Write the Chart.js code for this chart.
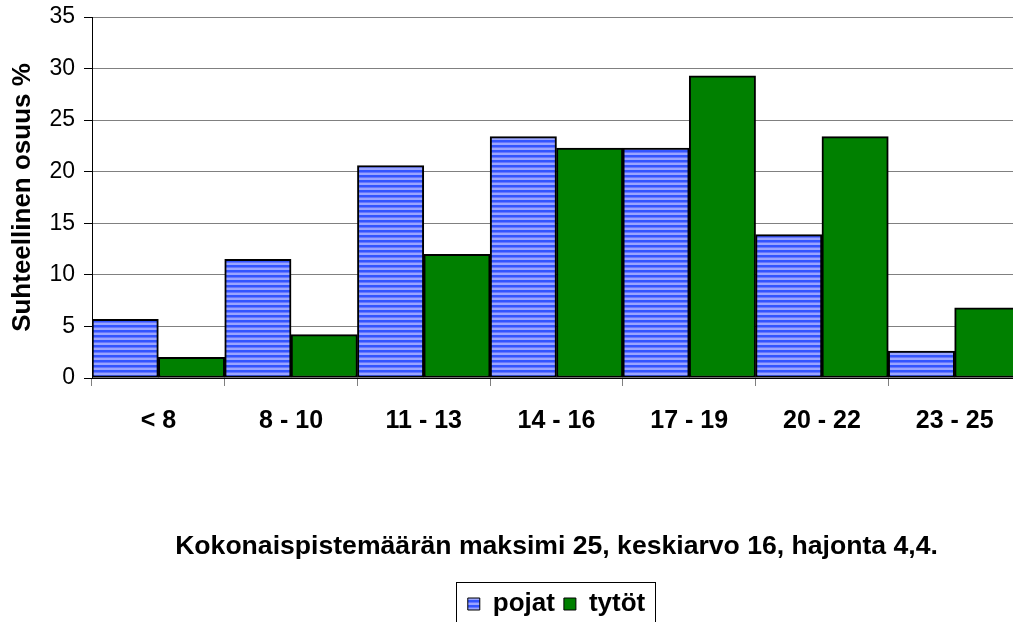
<!DOCTYPE html>
<html>
<head>
<meta charset="utf-8">
<script src="https://cdn.jsdelivr.net/npm/chart.js@4/dist/chart.umd.min.js"></script>
<style>
  body { margin: 0; overflow: hidden; background: #fff; }
  canvas { display: block; }
</style>
</head>
<body>
<canvas id="myChart" width="1021" height="627"></canvas>
<script>
var categories = ['< 8', '8 - 10', '11 - 13', '14 - 16', '17 - 19', '20 - 22', '23 - 25'];
var seriesNames = ['pojat', 'tytöt'];
var pojat = [5.7, 11.5, 20.6, 23.4, 22.3, 13.9, 2.6];
var tytot = [2.0, 4.2, 12.0, 22.3, 29.3, 23.4, 6.8];
var yTicks = [0, 5, 10, 15, 20, 25, 30, 35];
var yTitle = 'Suhteellinen osuus %';
var xTitle = 'Kokonaispistemäärän maksimi 25, keskiarvo 16, hajonta 4,4.';

// blue striped fill like the old excel pattern
function stripes() {
  var c = document.createElement('canvas');
  c.width = 8; c.height = 5;
  var g = c.getContext('2d');
  var rows = ['#3355ff', '#3355ff', '#6677ff', '#9aa5ff', '#9aa5ff'];
  rows.forEach(function (col, i) {
    g.fillStyle = col;
    g.fillRect(0, i, 8, 1);
  });
  return g.createPattern(c, 'repeat');
}
var ctx = document.getElementById('myChart').getContext('2d');

Chart.defaults.font.family = '"Liberation Sans", Arial, sans-serif';
Chart.defaults.color = '#000';

// box around the legend
var legendBorder = {
  id: 'legendBorder',
  afterDraw: function (chart) {
    var lg = chart.legend;
    if (!lg || !lg.legendHitBoxes.length) return;
    var l = Math.min.apply(null, lg.legendHitBoxes.map(function (h) { return h.left; }));
    var r = Math.max.apply(null, lg.legendHitBoxes.map(function (h) { return h.left + h.width; }));
    var c = chart.ctx;
    c.save();
    c.strokeStyle = '#000';
    c.lineWidth = 1;
    c.strokeRect(Math.round(l - 12) + 0.5, Math.round(lg.top) + 0.5, Math.round(r - l + 22), Math.round(lg.height));
    c.restore();
  }
};

new Chart(ctx, {
  type: 'bar',
  data: {
    labels: categories,
    datasets: [{
      label: seriesNames[0],
      data: pojat,
      backgroundColor: stripes(),
      borderColor: '#000',
      borderWidth: 2,
      borderSkipped: false
    }, {
      label: seriesNames[1],
      data: tytot,
      backgroundColor: '#008000',
      borderColor: '#000',
      borderWidth: 2,
      borderSkipped: false
    }]
  },
  options: {
    responsive: false,
    animation: false,
    layout: { padding: { top: 17, left: 0, right: 0, bottom: 0 } },
    datasets: { bar: { categoryPercentage: 1, barPercentage: 1 } },
    plugins: {
      tooltip: { enabled: false },
      legend: {
        position: 'bottom',
        fullSize: false,
        labels: {
          boxWidth: 12,
          boxHeight: 12,
          padding: 9,
          font: { size: 26, weight: 'bold' },
          generateLabels: function (chart) {
            var items = Chart.defaults.plugins.legend.labels.generateLabels(chart);
            items.forEach(function (it) { it.lineWidth = 1; });
            return items;
          }
        }
      }
    },
    scales: {
      x: {
        grid: { offset: true, drawOnChartArea: false, tickLength: 8, tickColor: '#808080' },
        border: { color: '#000', width: 1 },
        ticks: { font: { size: 25, weight: 'bold' }, padding: 20, maxRotation: 0 },
        title: {
          display: true,
          text: xTitle,
          font: { size: 26.6, weight: 'bold' },
          padding: { top: 0, bottom: 19 }
        },
        afterFit: function (s) { s.height = 204; }
      },
      y: {
        min: 0,
        max: 35,
        afterBuildTicks: function (s) { s.ticks = yTicks.map(function (v) { return { value: v }; }); },
        grid: { color: '#808080', tickColor: '#000', tickLength: 8 },
        border: { color: '#000', width: 1 },
        ticks: { font: { size: 23 }, padding: 9 },
        title: {
          display: true,
          text: yTitle,
          font: { size: 26, weight: 'bold' },
          padding: { top: 7, bottom: 0 }
        },
        afterFit: function (s) {
          s.width = 92;
          s.paddingTop = 0;
          s.paddingBottom = 0;
        }
      }
    }
  },
  plugins: [legendBorder]
});
</script>
</body>
</html>
